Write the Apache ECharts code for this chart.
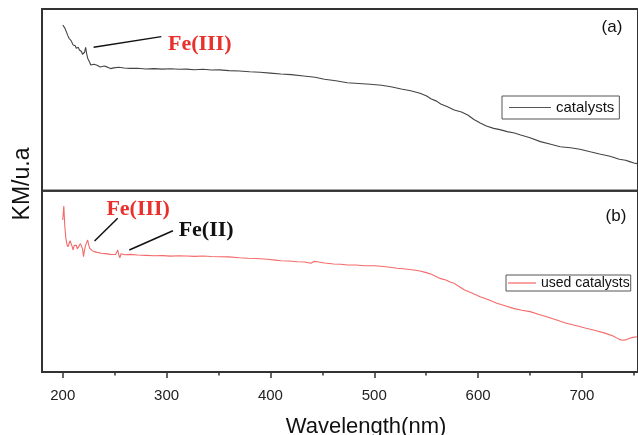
<!DOCTYPE html>
<html>
<head>
<meta charset="utf-8">
<script src="https://cdn.jsdelivr.net/npm/echarts@6/dist/echarts.min.js"></script>
<style>
  html, body { margin: 0; padding: 0; background: #fff; }
  #chart { width: 638px; height: 435px; }
</style>
</head>
<body>
<div id="chart"></div>
<script>
// Diffuse-reflectance spectra (Kubelka-Munk, arbitrary units)
const wlFresh = [200,202,203,205,206,208,210,212,213,215,216,218,219,221,222,223,224,226,227,230,233,236,240,243,246,249,254,259,265,272,280,288,296,304,312,319,327,335,343,351,360,370,380,390,400,410,420,432,443,452,463,474,485,496,507,516,526,535,544,550,555,560,564,570,577,584,590,596,602,608,615,621,628,635,641,650,660,670,679,689,698,708,717,727,736,742,746,750,753];
const kmFresh = [91.2,89.5,88.4,85.2,83.9,82.6,80.2,79.8,78.4,78.9,77.4,76.6,75.1,76.2,78.9,75.4,72.9,70.6,69.2,69.6,69.0,68.1,68.6,68.0,67.2,67.6,67.9,67.5,67.3,67.4,67.0,67.2,66.9,67.1,66.8,66.9,66.6,66.8,66.4,66.5,66.1,65.9,65.5,65.2,64.7,64.2,63.9,63.1,62.4,61.3,60.5,59.4,59.0,58.6,58.0,57.2,56.0,55.0,53.6,52.3,50.5,49.3,47.7,46.3,44.4,43.3,41.7,39.2,37.3,35.6,34.3,33.6,32.5,31.8,30.7,29.1,27.0,25.6,24.2,23.6,22.8,21.4,20.2,19.0,17.3,16.8,16.0,15.2,14.9];

const wlUsed = [200,201,202,203,204,205,207,208,209,210,211,213,214,215,217,218,219,220,221,222,223,224,225,226,228,230,233,237,241,246,249,251,252,253,254,255,256,257,260,265,272,280,288,296,304,312,319,327,335,343,351,360,370,378,387,397,405,410,418,426,433,439,442,445,452,461,468,474,482,490,500,509,515,522,530,538,544,550,555,560,564,569,573,577,582,587,594,602,610,618,626,634,642,650,658,666,675,685,694,704,713,723,730,736,739,742,746,749,753];
const kmUsed = [83.8,91.6,80.0,73.7,70.5,69.1,72.4,71.9,69.3,67.3,69.8,70.0,67.9,68.2,70.8,71.9,68.0,63.6,67.5,70.0,70.6,72.8,70.1,68.2,67.1,66.4,66.0,65.5,65.3,64.9,64.8,64.9,65.8,67.3,64.4,63.0,65.2,64.5,64.7,64.9,64.5,64.3,64.1,64.2,63.9,64.1,64.0,63.8,64.0,63.7,63.6,63.5,63.0,62.7,62.6,62.2,61.7,61.4,61.2,60.8,60.7,60.0,61.0,60.8,60.1,59.6,59.4,59.0,59.0,58.6,58.6,58.2,57.8,57.2,56.8,56.3,55.7,54.8,53.9,52.6,51.5,50.7,49.6,48.9,47.0,45.2,43.6,41.5,39.8,37.9,36.5,35.1,34.1,33.3,31.9,30.5,28.8,26.9,25.6,24.1,22.9,21.3,19.9,18.0,17.5,17.7,18.6,19.1,19.4];

const majorTicks = [200, 300, 400, 500, 600, 700];
const minorTicks = [250, 350, 450, 550, 650, 750];

// Peak annotations: [label, label anchor, leader start, leader end, colour]
const peakNotesFresh = [
  ['Fe(III)', [331.9, 80.7], [229.7, 78.9], [294.9, 84.8], '#e8302c']
];
const peakNotesUsed = [
  ['Fe(III)', [272.6, 89.9], [230.6, 72.3], [252.9, 84.8], '#e8302c'],
  ['Fe(II)',  [338.1, 78.3], [264.1, 67.3], [306.1, 77.9], '#111111']
];

const SANS = '"Liberation Sans", Arial, sans-serif';
const SERIF = '"Liberation Serif", "Times New Roman", serif';
const X_MIN = 180, X_MAX = 754;

function pairs(xs, ys) { return xs.map((x, i) => [x, ys[i]]); }

function leaders(notes) {
  return notes.map(n => [{ coord: n[2] }, { coord: n[3] }]);
}
function labels(notes) {
  return notes.map(n => ({
    coord: n[1],
    symbol: 'rect',
    symbolSize: 1,
    itemStyle: { color: 'transparent' },
    label: {
      show: true, position: 'inside', formatter: n[0],
      color: n[4], fontFamily: SERIF, fontWeight: 'bold', fontSize: 22
    }
  }));
}

const chart = echarts.init(document.getElementById('chart'), null, { renderer: 'canvas' });

const gridBase = { left: 42, width: 601, show: true, borderColor: '#333', borderWidth: 2, backgroundColor: 'transparent' };

chart.setOption({
  animation: false,
  backgroundColor: '#fff',
  grid: [
    Object.assign({ top: 9, height: 181.7 }, gridBase),
    Object.assign({ top: 190.7, height: 181.3 }, gridBase)
  ],
  xAxis: [
    { type: 'value', gridIndex: 0, min: X_MIN, max: X_MAX, show: false },
    {
      type: 'value', gridIndex: 1, min: X_MIN, max: X_MAX, position: 'bottom',
      axisLine: { show: true, lineStyle: { color: '#333', width: 2 } },
      axisTick: { show: true, customValues: majorTicks, length: 6, lineStyle: { color: '#333', width: 1.5 } },
      axisLabel: { show: true, customValues: majorTicks, margin: 16, fontSize: 15, color: '#222', fontFamily: SANS },
      splitLine: { show: false }
    },
    {
      type: 'value', gridIndex: 1, min: X_MIN, max: X_MAX, position: 'bottom',
      axisLine: { show: false },
      axisTick: { show: true, customValues: minorTicks, length: 3.5, lineStyle: { color: '#333', width: 1.5 } },
      axisLabel: { show: false },
      splitLine: { show: false }
    }
  ],
  yAxis: [
    { type: 'value', gridIndex: 0, min: 0, max: 100, axisLine: { show: false }, axisTick: { show: false }, axisLabel: { show: false }, splitLine: { show: false } },
    { type: 'value', gridIndex: 1, min: 0, max: 100, axisLine: { show: false }, axisTick: { show: false }, axisLabel: { show: false }, splitLine: { show: false } }
  ],
  legend: [
    {
      data: ['catalysts'], left: 502, top: 96,
      icon: 'rect', itemWidth: 42, itemHeight: 1, itemGap: 0,
      padding: [4, 5, 4, 7],
      borderColor: '#555', borderWidth: 1, borderRadius: 0,
      textStyle: { fontSize: 15, color: '#111', fontFamily: SANS }
    },
    {
      data: ['used catalysts'], left: 506, top: 275,
      icon: 'rect', itemWidth: 28, itemHeight: 2, itemGap: 0,
      padding: [1, 1, 1, 2],
      borderColor: '#555', borderWidth: 1, borderRadius: 0,
      textStyle: { fontSize: 14, color: '#111', fontFamily: SANS }
    }
  ],
  series: [
    {
      name: 'catalysts', type: 'line', xAxisIndex: 0, yAxisIndex: 0,
      data: pairs(wlFresh, kmFresh), symbol: 'none', showSymbol: false,
      lineStyle: { color: '#444', width: 1.1 }, itemStyle: { color: '#555' },
      markLine: {
        silent: true, symbol: ['none', 'none'], label: { show: false },
        lineStyle: { color: '#111', width: 1.5, type: 'solid' },
        data: leaders(peakNotesFresh)
      },
      markPoint: { silent: true, data: labels(peakNotesFresh) }
    },
    {
      name: 'used catalysts', type: 'line', xAxisIndex: 1, yAxisIndex: 1,
      data: pairs(wlUsed, kmUsed), symbol: 'none', showSymbol: false,
      lineStyle: { color: '#f46a6a', width: 1.1 }, itemStyle: { color: '#f7a3a3' },
      markLine: {
        silent: true, symbol: ['none', 'none'], label: { show: false },
        lineStyle: { color: '#111', width: 1.5, type: 'solid' },
        data: leaders(peakNotesUsed)
      },
      markPoint: { silent: true, data: labels(peakNotesUsed) }
    }
  ],
  graphic: [
    { type: 'text', x: 23, y: 184, rotation: Math.PI / 2,
      style: { text: 'KM/u.a', font: '23px ' + SANS, align: 'center', verticalAlign: 'middle', fill: '#111' } },
    { type: 'text', x: 366, y: 427,
      style: { text: 'Wavelength(nm)', font: '22px ' + SANS, align: 'center', verticalAlign: 'middle', fill: '#111' } },
    { type: 'text', x: 612, y: 27,
      style: { text: '(a)', font: '17px ' + SANS, align: 'center', verticalAlign: 'middle', fill: '#111' } },
    { type: 'text', x: 616, y: 216,
      style: { text: '(b)', font: '17px ' + SANS, align: 'center', verticalAlign: 'middle', fill: '#111' } }
  ]
});
</script>
</body>
</html>
